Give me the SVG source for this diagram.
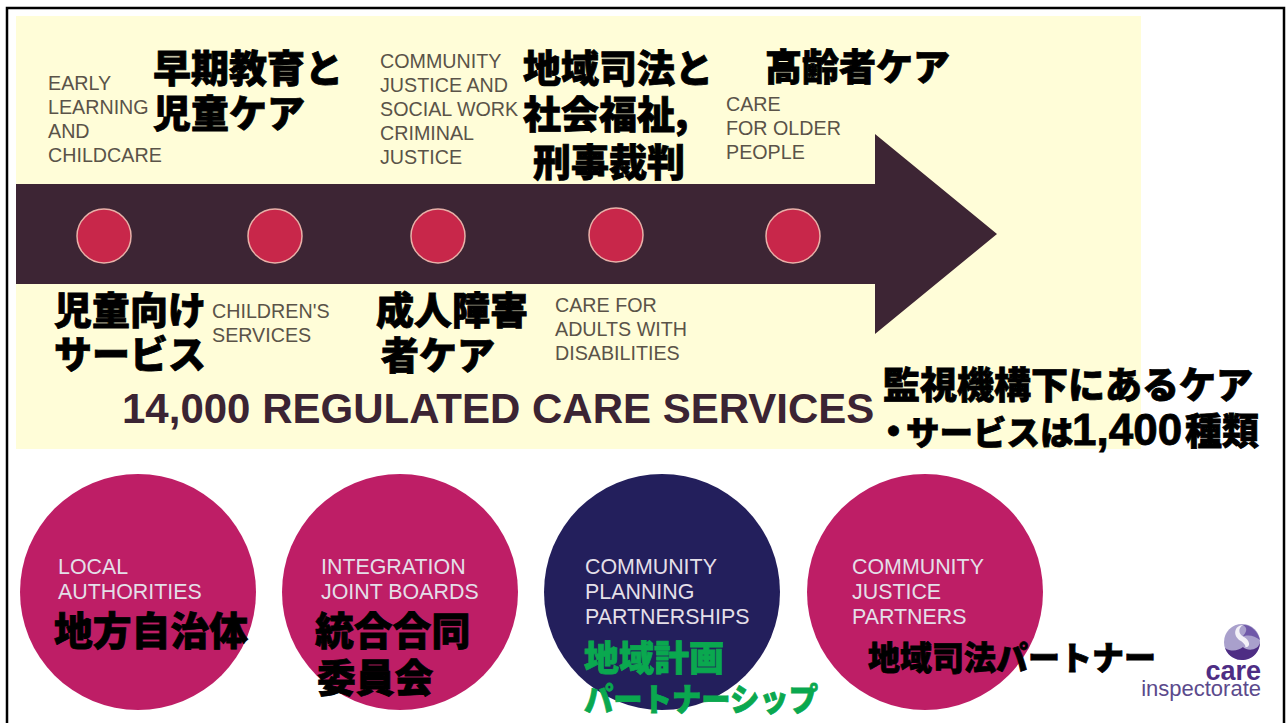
<svg xmlns="http://www.w3.org/2000/svg" width="1286" height="723" viewBox="0 0 1286 723">
<style>
.en{font-family:"Liberation Sans",Arial,sans-serif;font-size:19.7px;fill:#5a5348}
.wh{font-family:"Liberation Sans",Arial,sans-serif;font-size:21.4px;fill:#e4dfe8}
.jp{font-family:"Noto Sans CJK JP","Noto Sans CJK SC",sans-serif;font-size:38px;font-weight:900;fill:#000;stroke:#000;stroke-width:.8px}
.gr{fill:#0aa84f;stroke:#0aa84f;font-size:35px}
.dot{fill:#c8274a;stroke:#e8b0a8;stroke-width:1.5}
.mag{fill:#be1e66}
</style>
<rect x="0" y="0" width="1286" height="723" fill="#fff"/>
<rect x="7" y="8" width="1277" height="730" fill="none" stroke="#000" stroke-width="2.5"/>
<rect x="16" y="16" width="1125" height="433" fill="#fffdd8"/>
<g id="arrow"><path d="M16 184H875V134L997 234L875 334V284H16Z" fill="#3d2534"/></g>
<g id="node-early"><circle class="dot" cx="104" cy="236" r="27"/>
<text class="en"><tspan x="48" y="90">EARLY</tspan><tspan x="48" y="114">LEARNING</tspan><tspan x="48" y="138">AND</tspan><tspan x="48" y="162">CHILDCARE</tspan></text>
<text class="jp"><tspan x="153" y="82">早期教育と</tspan><tspan x="153" y="127">児童ケア</tspan></text></g>
<g id="node-children"><circle class="dot" cx="275" cy="236" r="27"/>
<text class="en"><tspan x="212" y="318">CHILDREN'S</tspan><tspan x="212" y="342">SERVICES</tspan></text>
<text class="jp"><tspan x="54" y="324">児童向け</tspan><tspan x="54" y="368">サービス</tspan></text></g>
<g id="node-justice"><circle class="dot" cx="438" cy="236" r="27"/>
<text class="en"><tspan x="380" y="68">COMMUNITY</tspan><tspan x="380" y="92">JUSTICE AND</tspan><tspan x="380" y="116">SOCIAL WORK</tspan><tspan x="380" y="140">CRIMINAL</tspan><tspan x="380" y="164">JUSTICE</tspan></text>
<text class="jp"><tspan x="523" y="82">地域司法と</tspan><tspan x="523" y="128">社会福祉,</tspan><tspan x="533" y="176">刑事裁判</tspan></text></g>
<g id="node-disabilities"><circle class="dot" cx="616" cy="235" r="27"/>
<text class="en"><tspan x="555" y="312">CARE FOR</tspan><tspan x="555" y="336">ADULTS WITH</tspan><tspan x="555" y="360">DISABILITIES</tspan></text>
<text class="jp"><tspan x="376" y="324">成人障害</tspan><tspan x="381" y="369">者ケア</tspan></text></g>
<g id="node-older"><circle class="dot" cx="793" cy="236" r="27"/>
<text class="en"><tspan x="726" y="111">CARE</tspan><tspan x="726" y="135">FOR OLDER</tspan><tspan x="726" y="159">PEOPLE</tspan></text>
<text class="jp" style="font-size:37px" x="765" y="81">高齢者ケア</text></g>
<g id="title"><text x="122" y="423" font-family="'Liberation Sans',Arial,sans-serif" font-size="42" font-weight="700" fill="#3b2433">14,000 REGULATED CARE SERVICES</text>
<text class="jp" style="font-size:37px"><tspan x="883" y="399">監視機構下にあるケア</tspan><tspan x="875" y="445">・</tspan><tspan x="906" y="445" style="font-size:33.5px">サービスは</tspan><tspan x="1072" y="445" style="font-family:'Liberation Sans',Arial,sans-serif;font-size:44px;font-weight:700">1,400</tspan><tspan x="1185" y="445">種類</tspan></text></g>
<g id="node-la"><circle class="mag" cx="138" cy="592" r="118"/>
<text class="wh"><tspan x="58" y="574">LOCAL</tspan><tspan x="58" y="599">AUTHORITIES</tspan></text>
<text class="jp" style="font-size:38.8px" x="54" y="645">地方自治体</text></g>
<g id="node-ijb"><circle class="mag" cx="400" cy="592" r="118"/>
<text class="wh"><tspan x="321" y="574">INTEGRATION</tspan><tspan x="321" y="599">JOINT BOARDS</tspan></text>
<text class="jp" style="font-size:38.8px"><tspan x="315" y="645">統合合同</tspan><tspan x="317" y="692">委員会</tspan></text></g>
<g id="node-cpp"><circle cx="662" cy="592" r="118" fill="#231f5c"/>
<text class="wh"><tspan x="585" y="574">COMMUNITY</tspan><tspan x="585" y="599">PLANNING</tspan><tspan x="585" y="624">PARTNERSHIPS</tspan></text>
<text class="jp gr" x="584" y="671">地域計画</text>
<text class="jp gr" style="font-size:32px" x="584" y="711" textLength="234" lengthAdjust="spacingAndGlyphs">パートナーシップ</text></g>
<g id="node-cjp"><circle class="mag" cx="925" cy="592" r="118"/>
<text class="wh"><tspan x="852" y="574">COMMUNITY</tspan><tspan x="852" y="599">JUSTICE</tspan><tspan x="852" y="624">PARTNERS</tspan></text>
<text class="jp" style="font-size:33px" x="868" y="670" textLength="288" lengthAdjust="spacingAndGlyphs">地域司法パートナー</text></g>
<g id="logo"><circle cx="1242" cy="642" r="18" fill="#a9a0cc"/>
<path d="M1225 648A18 18 0 0 0 1260 642C1259 650 1248 652 1243 647C1238 651 1231 652 1225 648Z" fill="#4e2d84"/>
<path d="M1243 625C1250 624 1258 631 1260 640C1255 636 1248 634 1242 637C1247 632 1248 628 1243 625Z" fill="#6f58a8"/>
<path d="M1243 625C1233 626 1233 637 1241 641C1246 645 1247 648 1243 647C1252 649 1250 640 1244 637C1238 634 1238 628 1243 625Z" fill="#f3f1f8"/>
<text x="1261" y="680" text-anchor="end" font-family="'Liberation Sans',Arial,sans-serif" font-size="27" font-weight="700" fill="#4e2d84">care</text>
<text x="1261" y="696" text-anchor="end" font-family="'Liberation Sans',Arial,sans-serif" font-size="22" fill="#5b4a8c">inspectorate</text></g>
</svg>
